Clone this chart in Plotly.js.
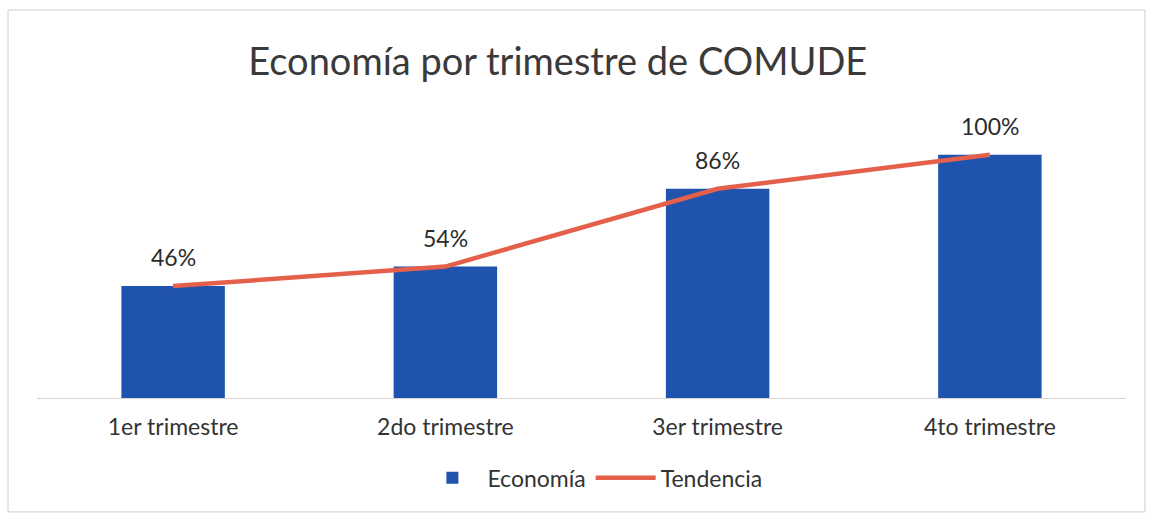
<!DOCTYPE html>
<html>
<head>
<meta charset="utf-8">
<script src="https://cdn.plot.ly/plotly-3.0.1.min.js"></script>
<style>html,body{margin:0;padding:0;background:#fff;}#chart{width:1150px;height:517px;}</style>
</head>
<body>
<div id="chart"></div>
<script>
const categories = ["1er trimestre", "2do trimestre", "3er trimestre", "4to trimestre"];
const economia = [0.46, 0.54, 0.86, 1.00];
const tendencia = [0.46, 0.54, 0.86, 1.00];
const labels = ["46%", "54%", "86%", "100%"];

const font = "Lato, 'Open Sans', sans-serif";

const traces = [
  {
    type: "bar", name: "Economía", x: categories, y: economia,
    marker: {color: "#1f53ad"}, width: 0.38, hoverinfo: "skip"
  },
  {
    type: "scatter", mode: "lines", name: "Tendencia", x: categories, y: tendencia,
    line: {color: "#e4604a", width: 4.5}, hoverinfo: "skip"
  }
];

const annotations = categories.map((c, i) => ({
  x: c, y: economia[i], text: labels[i], showarrow: false,
  yanchor: "bottom", yshift: 13, font: {family: font, size: 23, color: "#2b2b2b"}
}));

const layout = {
  width: 1150, height: 517,
  margin: {l: 37, r: 24, t: 106, b: 119},
  paper_bgcolor: "#ffffff", plot_bgcolor: "#ffffff",
  title: {text: "Economía por trimestre de COMUDE", x: 0.485, xanchor: "center", y: 0.88, yanchor: "middle",
          font: {family: font, size: 38, color: "#3a3a3a"}},
  xaxis: {range: [-0.5, 3.5], showgrid: false, zeroline: false, showline: true, linecolor: "#d4d4d4", linewidth: 1,
          ticks: "outside", ticklen: 8, tickcolor: "rgba(0,0,0,0)",
          tickfont: {family: font, size: 23, color: "#333"}, fixedrange: true},
  yaxis: {range: [0, 1.2], visible: false, fixedrange: true},
  showlegend: true,
  legend: {orientation: "h", x: 0.51, xanchor: "center", y: -0.2, yanchor: "top",
           font: {family: font, size: 23, color: "#333"}, itemwidth: 60, traceorder: "normal"},
  annotations: annotations,
  shapes: [{type: "rect", xref: "paper", yref: "paper", x0: -0.0266, x1: 1.0174, y0: -0.39, y1: 1.3288,
            line: {color: "#cfcfcf", width: 1}, layer: "below"}],
  bargap: 0.62
};

Plotly.newPlot("chart", traces, layout, {displayModeBar: false, staticPlot: true});
</script>
</body>
</html>
